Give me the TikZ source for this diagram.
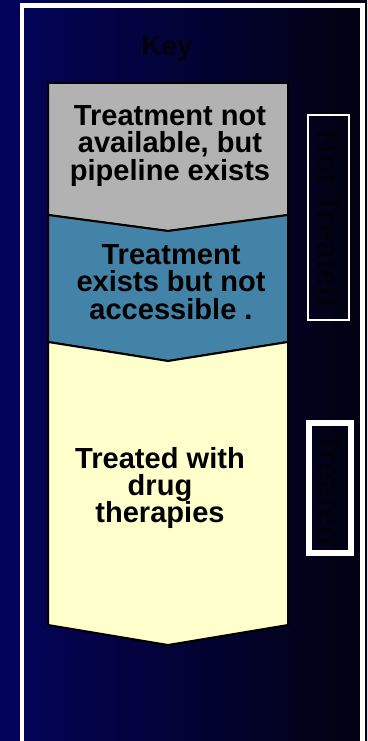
\documentclass[tikz,border=0pt]{standalone}
\usepackage{fontspec}
\setmainfont{Liberation Sans}
\definecolor{bgLeft}{RGB}{3,3,92}
\definecolor{bgRight}{RGB}{2,2,16}
\definecolor{keyDark}{RGB}{2,2,14}
\definecolor{pipeGray}{RGB}{178,178,178}
\definecolor{accessBlue}{RGB}{68,131,168}
\definecolor{treatYellow}{RGB}{255,255,204}
\begin{document}
\begin{tikzpicture}[x=0.75pt,y=-0.75pt,
    keyFrame/.style={draw=white,line width=3.2pt},
    keyBand/.style={draw=black,line width=1.5pt,line join=miter},
    keyText/.style={font=\bfseries\fontsize{21.8}{20.5}\selectfont,align=center,text=black},
    sideBox/.style={draw=white,line width=1.5pt},
    sideText/.style={font=\bfseries\fontsize{24}{24}\selectfont,text=keyDark,rotate=-90},
]
\useasboundingbox (0,0) rectangle (367,741);
\shade[left color=bgLeft,right color=bgRight] (0,0) rectangle (367,741);
% === frame ===
\draw[keyFrame] (22,741) -- (22,5.5) -- (362.5,5.5) -- (362.5,741);
\node[font=\bfseries\fontsize{21}{21}\selectfont,text=keyDark] (keyTitle) at (167,49) {Key};
% === bands ===
\draw[keyBand,fill=pipeGray] (48,83) -- (288,83) -- (288,215) -- (168,231) -- (48,215) -- cycle;
\draw[keyBand,fill=accessBlue] (48,215) -- (168,231) -- (288,215) -- (288,342) -- (168,361) -- (48,342) -- cycle;
\draw[keyBand,fill=treatYellow] (48,342) -- (168,361) -- (288,342) -- (288,625) -- (168,645) -- (48,625) -- cycle;
\node[keyText] (pipeText) at (170,146) {Treatment not\\available, but\\pipeline exists};
\node[keyText] (accessText) at (171,282) {Treatment\\exists but not\\accessible .};
\node[keyText] (drugText) at (160,488) {Treated with\\drug\\therapies};
% === side labels ===
\draw[sideBox] (308,115) rectangle (349,320);
\node[sideText] (notTreated) at (328.5,219) {Not Treated};
\draw[sideBox,line width=4.5pt] (309,423) rectangle (351,553);
\node[sideText] (treated) at (330,489) {Treated};
\end{tikzpicture}
\end{document}
